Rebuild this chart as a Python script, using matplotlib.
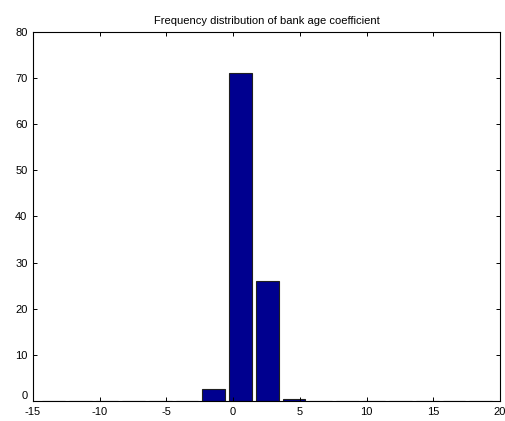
import matplotlib
matplotlib.use("Agg")
import matplotlib.pyplot as plt

plt.rcParams['font.family'] = ['Liberation Sans', 'DejaVu Sans']
plt.rcParams['axes.unicode_minus'] = False

bin_centers = [-13.45, -11.45, -9.45, -7.45, -5.45, -3.45, -1.45, 0.55, 2.55, 4.55,
               6.55, 8.55, 10.55, 12.55, 14.55, 16.55, 18.55]
frequency = [0, 0, 0, 0, 0, 0, 2.5, 71.1, 26.0, 0.4,
             0, 0, 0, 0, 0, 0, 0]
x_ticks = [-15, -10, -5, 0, 5, 10, 15, 20]
y_ticks = [0, 10, 20, 30, 40, 50, 60, 70, 80]
title = "Frequency distribution of bank age coefficient"

fig = plt.figure(figsize=(5.05, 4.21), dpi=100)
ax = fig.add_axes([33/505, 20/421, 467/505, 369/421])

ax.bar(bin_centers, frequency, width=1.7, color='#00008F',
       edgecolor='#202020', linewidth=0.8, align='center')

ax.set_xlim(-15, 20)
ax.set_ylim(0, 80)
ax.set_xticks(x_ticks)
ax.set_yticks(y_ticks)
ax.tick_params(direction='in', length=3, width=0.7, top=True, right=True,
               labelsize=8)
ax.tick_params(axis='x', pad=4)
ax.tick_params(axis='y', pad=4)
ax.get_yticklabels()[0].set_va('bottom')
for s in ax.spines.values():
    s.set_linewidth(0.8)
ax.set_title(title, fontsize=8, pad=6)

fig.savefig("out.png", dpi=100)
